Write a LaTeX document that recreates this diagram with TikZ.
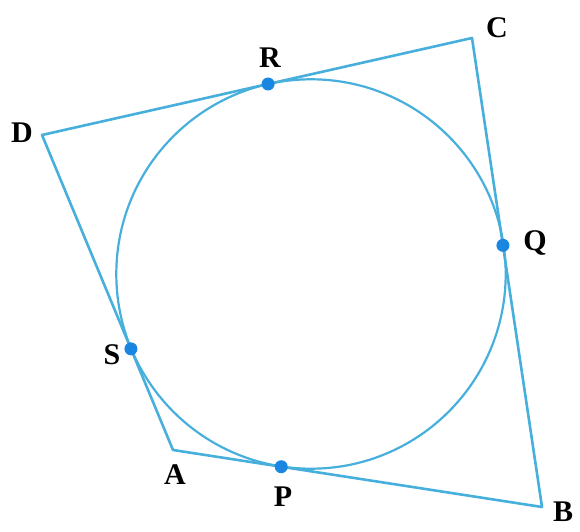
\documentclass[tikz,border=0pt]{standalone}
\usepackage{fontspec}
\setmainfont{Liberation Serif}
\usetikzlibrary{calc}
\definecolor{edgeblue}{RGB}{70,175,220}
\definecolor{dotblue}{RGB}{25,135,225}
\begin{document}
\begin{tikzpicture}[x=1pt,y=1pt,
  edge/.style={draw=edgeblue,line width=2.6pt,line join=round},
  circ/.style={draw=edgeblue,line width=2.2pt},
  tdot/.style={circle,fill=dotblue,inner sep=0pt,minimum size=13pt},
  lab/.style={font=\fontsize{30}{30}\selectfont\bfseries,inner sep=0pt}]
\useasboundingbox (0,0) rectangle (580,531);
\coordinate (D) at (42,396);
\coordinate (C) at (472,493);
\coordinate (B) at (542,24);
\coordinate (A) at (173,81);
\coordinate (O) at (311,257);
\draw[circ] (O) circle[radius=194.7];
\draw[edge] (A) -- (B) -- (C) -- (D) -- cycle;
\node[tdot] (R) at ($(D)!(O)!(C)$) {};
\node[tdot] (Q) at ($(C)!(O)!(B)$) {};
\node[tdot] (P) at ($(A)!(O)!(B)$) {};
\node[tdot] (S) at ($(D)!(O)!(A)$) {};
\node[lab] (lC) at (497,503) {C};
\node[lab] (lD) at (22,398) {D};
\node[lab] (lA) at (175,56) {A};
\node[lab] (lP) at (283,34) {P};
\node[lab] (lB) at (563,19) {B};
\node[lab] (lR) at (270,473) {R};
\node[lab] (lQ) at (535,288) {Q};
\node[lab] (lS) at (112,176) {S};
\end{tikzpicture}
\end{document}
